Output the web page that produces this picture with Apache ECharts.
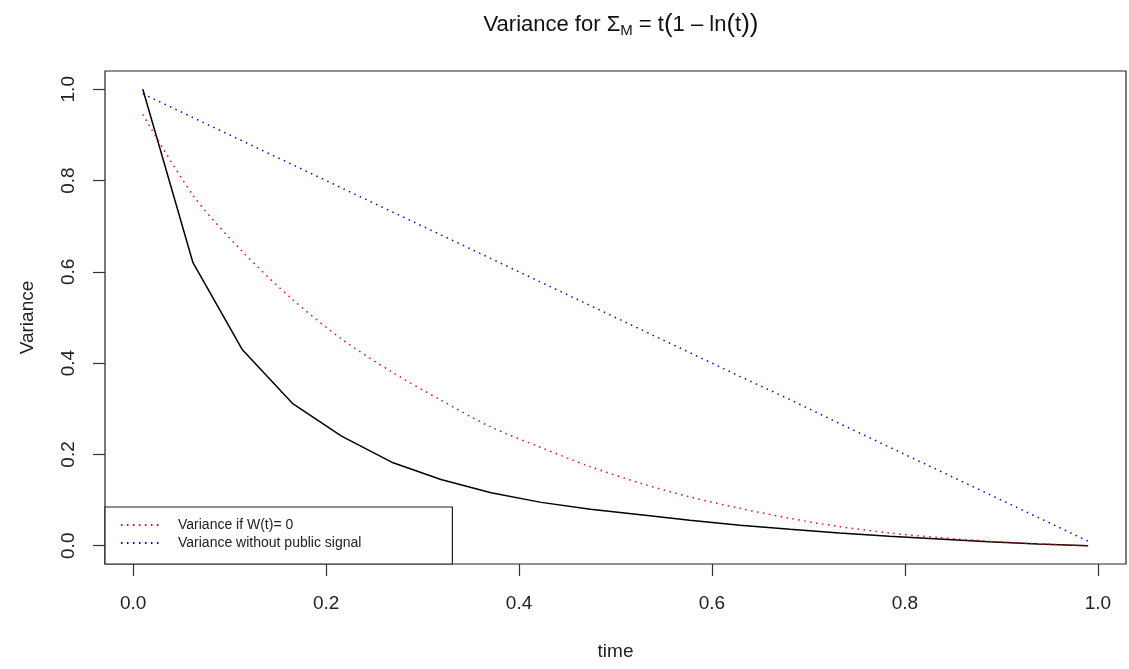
<!DOCTYPE html>
<html>
<head>
<meta charset="utf-8">
<script src="https://cdn.jsdelivr.net/npm/echarts@6/dist/echarts.min.js"></script>
<style>
  html, body { margin: 0; padding: 0; background: #fff; }
  #chart { width: 1129px; height: 669px; }
</style>
</head>
<body>
<div id="chart"></div>
<script>
// time grid (20 points from 0.01 to 0.99)
const times = [0.01, 0.062, 0.113, 0.165, 0.216, 0.268, 0.319, 0.371, 0.423, 0.474,
  0.526, 0.577, 0.629, 0.681, 0.732, 0.784, 0.835, 0.887, 0.938, 0.99];
// black solid line
const varSigma = [1.0, 0.620, 0.430, 0.312, 0.240, 0.183, 0.145, 0.116, 0.095, 0.080,
  0.068, 0.056, 0.045, 0.036, 0.028, 0.021, 0.015, 0.009, 0.004, 0.0];
// red dotted: Variance if W(t)= 0
const varW0 = [0.945, 0.768, 0.645, 0.540, 0.453, 0.381, 0.319, 0.260, 0.215, 0.173,
  0.137, 0.107, 0.082, 0.060, 0.042, 0.028, 0.018, 0.010, 0.004, 0.0];
// blue dotted: Variance without public signal
const varNoSignal = [0.99, 0.938, 0.887, 0.835, 0.784, 0.732, 0.681, 0.629, 0.577, 0.526,
  0.474, 0.423, 0.371, 0.320, 0.268, 0.216, 0.165, 0.113, 0.062, 0.01];
const ticks = [0, 0.2, 0.4, 0.6, 0.8, 1.0];

const pairs = (ys) => times.map((t, i) => [t, ys[i]]);
const font = "'Liberation Sans', Arial, Helvetica, sans-serif";

const chart = echarts.init(document.querySelector('#chart'));
const option = {
  animation: false,
  backgroundColor: '#fff',
  textStyle: { fontFamily: font },
  title: {
    text: 'Variance for Σ{sub|M} = t{p|(}1 – ln{p|(}t{p|)}{p|)}',
    left: 616,
    top: 6,
    textAlign: 'center',
    textStyle: {
      fontFamily: font,
      fontSize: 22,
      fontWeight: 'normal',
      color: '#111',
      rich: {
        sub: { fontFamily: font, fontSize: 15, color: '#111', padding: [12, 0, 0, 0] },
        p: { fontFamily: font, fontSize: 26, color: '#111' }
      }
    }
  },
  grid: {
    left: 105, right: 3, top: 71, bottom: 105,
    show: true,
    borderColor: '#222',
    borderWidth: 1.2,
    backgroundColor: 'transparent'
  },
  legend: {
    data: ['Variance if W(t)= 0', 'Variance without public signal'],
    orient: 'vertical',
    left: 105,
    bottom: 105,
    itemWidth: 38,
    itemHeight: 14,
    itemGap: 4,
    padding: [11, 91, 14, 15],
    borderColor: '#222',
    borderWidth: 1.2,
    backgroundColor: '#fff',
    borderRadius: 0,
    itemStyle: { color: 'transparent', borderWidth: 0, opacity: 0 },
    textStyle: { fontFamily: font, fontSize: 14, color: '#222', padding: [0, 0, 0, 14] }
  },
  xAxis: {
    type: 'value',
    min: -0.0292,
    max: 1.0292,
    name: 'time',
    nameLocation: 'middle',
    nameGap: 78,
    nameTextStyle: { fontFamily: font, fontSize: 19, color: '#222' },
    axisLine: { show: false, onZero: false },
    axisTick: { show: true, inside: false, length: 12, lineStyle: { color: '#333', width: 1.2 }, customValues: ticks },
    axisLabel: { fontFamily: font, fontSize: 19, color: '#222', margin: 30, customValues: ticks,
      formatter: (v) => v.toFixed(1) },
    splitLine: { show: false }
  },
  yAxis: {
    type: 'value',
    min: -0.04,
    max: 1.04,
    name: 'Variance',
    nameLocation: 'middle',
    nameGap: 68,
    nameTextStyle: { fontFamily: font, fontSize: 19, color: '#222' },
    axisLine: { show: false, onZero: false },
    axisTick: { show: true, inside: false, length: 12, lineStyle: { color: '#333', width: 1.2 }, customValues: ticks },
    axisLabel: { fontFamily: font, fontSize: 19, color: '#222', margin: 27, rotate: 90, customValues: ticks,
      formatter: (v) => v.toFixed(1) },
    splitLine: { show: false }
  },
  series: [
    {
      name: 'Sigma',
      type: 'line',
      data: pairs(varSigma),
      symbol: 'none',
      lineStyle: { color: '#000', width: 1.5 },
      itemStyle: { color: '#000' }
    },
    {
      name: 'Variance if W(t)= 0',
      type: 'line',
      data: pairs(varW0),
      symbol: 'none',
      smooth: 0.3,
      lineStyle: { color: '#ff0000', width: 1.5, type: [1.5, 4.5] },
      itemStyle: { color: '#ff0000' }
    },
    {
      name: 'Variance without public signal',
      type: 'line',
      data: pairs(varNoSignal),
      symbol: 'none',
      lineStyle: { color: '#0000ff', width: 1.5, type: [1.5, 4.5] },
      itemStyle: { color: '#0000ff' }
    }
  ]
};
chart.setOption(option);
</script>
</body>
</html>
